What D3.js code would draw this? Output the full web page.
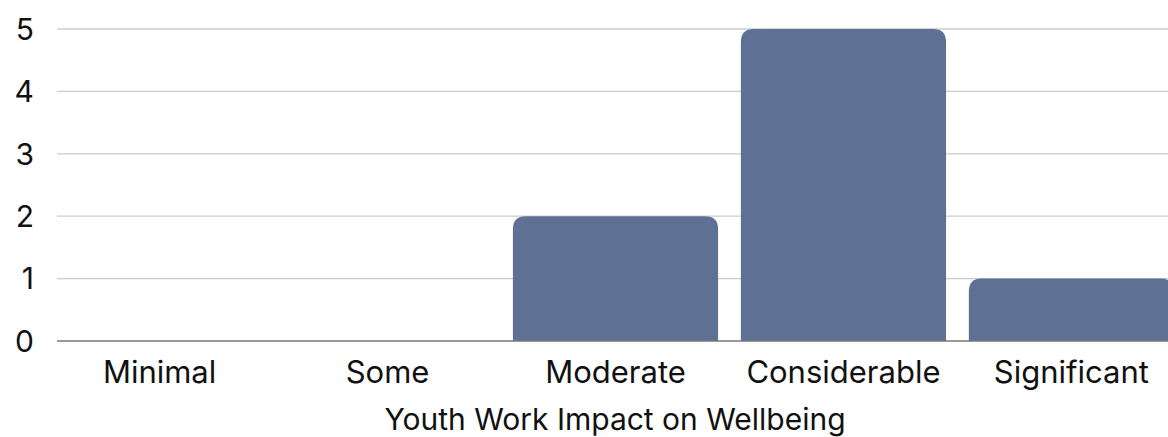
<!DOCTYPE html>
<meta charset="utf-8">
<script src="https://d3js.org/d3.v7.min.js"></script>
<style>
  body { margin: 0; background: #fff; }
  text { font-family: Inter, "Helvetica Neue", Arial, sans-serif; fill: #111; }
</style>
<div id="my_dataviz"></div>
<script>

// data
var categories = ["Minimal", "Some", "Moderate", "Considerable", "Significant"];
var counts = [0, 0, 2, 5, 1];
var yTicks = [0, 1, 2, 3, 4, 5];
var xTitle = "Youth Work Impact on Wellbeing";

var W = 1168, H = 437;
var margin = {top: 29, left: 57, bottom: 96};
var plotBottom = H - margin.bottom; // 341

var svg = d3.select("#my_dataviz")
  .append("svg")
    .attr("width", W)
    .attr("height", H);

var x = d3.scaleBand()
  .domain(categories)
  .range([margin.left, 1174])
  .paddingInner(0.1)
  .paddingOuter(0);

var y = d3.scaleLinear()
  .domain([0, 5])
  .range([plotBottom, margin.top]);

// gridlines
svg.append("g")
  .selectAll("line")
  .data(yTicks.filter(function(d) { return d > 0; }))
  .enter()
  .append("line")
    .attr("x1", margin.left)
    .attr("x2", W)
    .attr("y1", function(d) { return y(d); })
    .attr("y2", function(d) { return y(d); })
    .attr("stroke", "#cccccc")
    .attr("stroke-width", 1.3);

// y labels
svg.append("g")
  .selectAll("text")
  .data(yTicks)
  .enter()
  .append("text")
    .attr("x", 34)
    .attr("y", function(d) { return y(d); })
    .attr("dy", "0.36em")
    .attr("text-anchor", "end")
    .style("font-size", "30px")
    .text(function(d) { return d; });

// bars with rounded top corners
var r = 13;
function barPath(d, i) {
  var x0 = x(categories[i]), w = x.bandwidth();
  var y0 = y(d), y1 = y(0);
  if (d <= 0) return null;
  return "M" + x0 + "," + y1 +
    "V" + (y0 + r) +
    "Q" + x0 + "," + y0 + " " + (x0 + r) + "," + y0 +
    "H" + (x0 + w - r) +
    "Q" + (x0 + w) + "," + y0 + " " + (x0 + w) + "," + (y0 + r) +
    "V" + y1 + "Z";
}

svg.append("g")
  .selectAll("path")
  .data(counts)
  .enter()
  .append("path")
    .attr("d", barPath)
    .attr("fill", "#5e7194");

// baseline
svg.append("line")
  .attr("x1", margin.left)
  .attr("x2", W)
  .attr("y1", y(0))
  .attr("y2", y(0))
  .attr("stroke", "#777777")
  .attr("stroke-width", 1.3);

// category labels
svg.append("g")
  .selectAll("text")
  .data(categories)
  .enter()
  .append("text")
    .attr("x", function(d) { return x(d) + x.bandwidth() / 2; })
    .attr("y", 383)
    .attr("text-anchor", "middle")
    .style("font-size", "31px")
    .text(function(d) { return d; });

// axis title
svg.append("text")
  .attr("x", 615)
  .attr("y", 430)
  .attr("text-anchor", "middle")
  .style("font-size", "30px")
  .text(xTitle);

</script>
